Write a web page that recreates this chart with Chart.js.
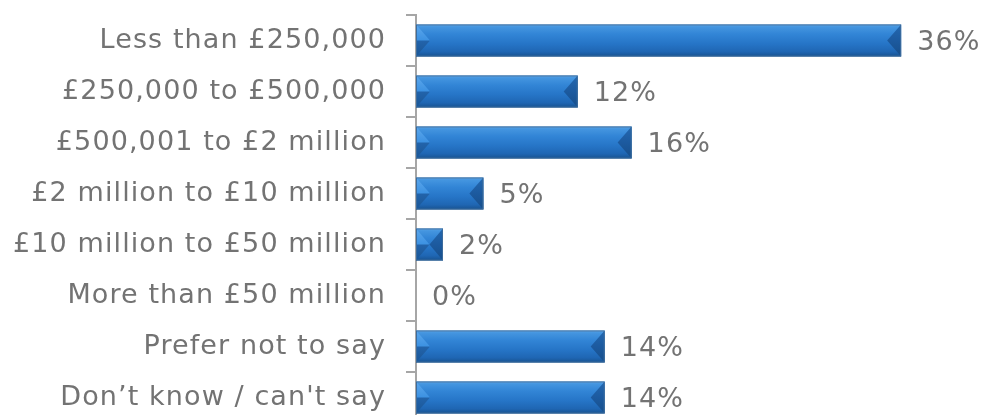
<!DOCTYPE html>
<html lang="en">

<head>
  <meta charset="UTF-8">
  <title>Turnover bands</title>
  <style>
    body {
      margin: 0;
      padding: 0;
      background: #ffffff;
      overflow: hidden;
    }

    .chart-container {
      width: 986px;
      height: 430px;
    }
  </style>
  <script src="https://cdn.jsdelivr.net/npm/chart.js"></script>
</head>

<body>
  <div class="chart-container">
    <canvas id="myChart" width="986" height="430"></canvas>
  </div>

  <script>
    // categories and percentages
    const categories = [
      'Less than £250,000',
      '£250,000 to £500,000',
      '£500,001 to £2 million',
      '£2 million to £10 million',
      '£10 million to £50 million',
      'More than £50 million',
      'Prefer not to say',
      'Don\u2019t know / can\'t say'
    ];
    const percentages = [36, 12, 16, 5, 2, 0, 14, 14];

    const textColor = '#737373';
    const fontFamily = 'Verdana, "DejaVu Sans", sans-serif';
    const spacing = '1.1px';  // DejaVu is a bit narrower than Verdana

    // bevelled look for the bars + value labels
    const bevelPlugin = {
      id: 'bevel',
      beforeDraw(chart) {
        chart.ctx.letterSpacing = spacing;
      },
      afterDatasetsDraw(chart) {
        const ctx = chart.ctx;
        const meta = chart.getDatasetMeta(0);
        meta.data.forEach((bar, i) => {
          const p = bar.getProps(['x', 'y', 'base', 'height'], true);
          const x0 = p.base, x1 = p.x;
          const top = p.y - p.height / 2, bot = p.y + p.height / 2;
          const w = x1 - x0;
          if (w > 0.5) {
            const b = Math.min(14, w / 2);
            ctx.save();
            // body
            let g = ctx.createLinearGradient(0, top, 0, bot);
            g.addColorStop(0, '#6fb1ec');
            g.addColorStop(0.07, '#4596e0');
            g.addColorStop(0.3, '#3285d6');
            g.addColorStop(0.6, '#2675c7');
            g.addColorStop(0.85, '#1f66b3');
            g.addColorStop(1, '#18528f');
            ctx.fillStyle = g;
            ctx.fillRect(x0, top, w, bot - top);
            // left facet
            g = ctx.createLinearGradient(0, top, 0, bot);
            g.addColorStop(0, '#5ea8ec');
            g.addColorStop(0.48, '#3d92e2');
            g.addColorStop(0.52, '#2263aa');
            g.addColorStop(1, '#1a5696');
            ctx.fillStyle = g;
            ctx.beginPath();
            ctx.moveTo(x0, top);
            ctx.lineTo(x0 + b, p.y);
            ctx.lineTo(x0, bot);
            ctx.closePath();
            ctx.fill();
            // right facet
            g = ctx.createLinearGradient(0, top, 0, bot);
            g.addColorStop(0, '#2468b0');
            g.addColorStop(0.5, '#1c5a9f');
            g.addColorStop(1, '#174e8a');
            ctx.fillStyle = g;
            ctx.beginPath();
            ctx.moveTo(x1, top);
            ctx.lineTo(x1 - b, p.y);
            ctx.lineTo(x1, bot);
            ctx.closePath();
            ctx.fill();
            // outline
            ctx.strokeStyle = '#3d6c9c';
            ctx.lineWidth = 1;
            ctx.strokeRect(x0 + 0.5, top + 0.5, w - 1, bot - top - 1);
            ctx.restore();
          }
          // value label
          ctx.save();
          ctx.fillStyle = textColor;
          ctx.font = '27px ' + fontFamily;
          ctx.letterSpacing = spacing;
          ctx.textBaseline = 'middle';
          ctx.textAlign = 'left';
          ctx.fillText(percentages[i] + '%', x1 + 16, p.y + 2);
          ctx.restore();
        });
      }
    };

    const ctx = document.getElementById('myChart').getContext('2d');
    const myChart = new Chart(ctx, {
      type: 'bar',
      data: {
        labels: categories,
        datasets: [{
          data: percentages,
          backgroundColor: 'rgba(0,0,0,0)',
          borderWidth: 0,
          barPercentage: 0.63,
          categoryPercentage: 1
        }]
      },
      options: {
        indexAxis: 'y',
        responsive: false,
        animation: false,
        layout: { padding: { top: 15, bottom: 7, right: 4, left: 0 } },
        plugins: {
          legend: { display: false },
          tooltip: { enabled: false }
        },
        scales: {
          x: {
            display: false,
            min: 0,
            max: 42
          },
          y: {
            afterFit(scale) {
              scale.width = 416;
              scale.paddingTop = 0;
              scale.paddingBottom = 0;
            },
            border: { display: true, color: '#a6a6a6', width: 2 },
            grid: {
              display: true,
              drawOnChartArea: false,
              color: '#a6a6a6',
              lineWidth: 2,
              tickLength: 10,
              offset: true
            },
            ticks: {
              color: textColor,
              padding: 20,
              font: { family: fontFamily, size: 27, lineHeight: 1.05 }
            }
          }
        }
      },
      plugins: [bevelPlugin]
    });
  </script>
</body>

</html>
